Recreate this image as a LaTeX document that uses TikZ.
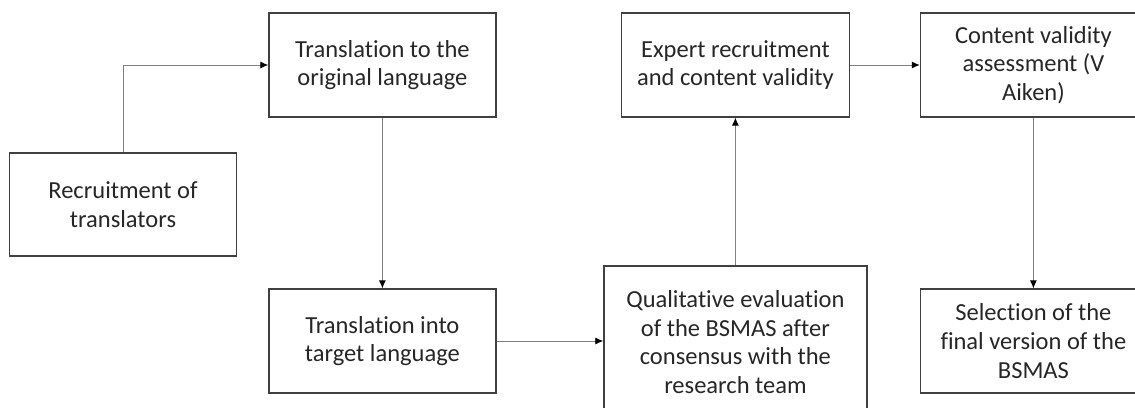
\documentclass[tikz,border=0pt]{standalone}
\usepackage{fontspec}
\setmainfont{Carlito}[Ligatures=NoCommon]
\usetikzlibrary{arrows.meta}
\tikzset{
  stepbox/.style={draw=black!75, line width=1.3pt, align=center, inner sep=0pt,
    minimum width=227pt, minimum height=104pt,
    font=\fontsize{24.5}{28.8}\selectfont, text=black!85},
  link/.style={draw=black!50, line width=0.9pt, -{Latex[black, length=8pt, width=7pt]}}
}
\begin{document}
\begin{tikzpicture}[x=1pt,y=-1pt]
  \useasboundingbox (0,0) rectangle (1135,407);
  \clip (0,0) rectangle (1135,407);
  % boxes
  \node[stepbox, minimum height=103pt] (recruit) at (123,204.5) {Recruitment of\\translators};
  \node[stepbox] (toorig) at (382.4,65) {Translation to the\\original language};
  \node[stepbox] (target) at (382.4,341) {Translation into\\target language};
  \node[stepbox, minimum width=263pt, minimum height=152pt] (qual) at (735.4,342) {Qualitative evaluation\\of the BSMAS after\\consensus with the\\research team};
  \node[stepbox, minimum width=228pt] (expert) at (735.4,65) {Expert recruitment\\and content validity};
  \node[stepbox, minimum width=226pt] (assess) at (1033.4,65) {Content validity\\assessment (V\\Aiken)};
  \node[stepbox, minimum width=226pt] (select) at (1033.4,341) {Selection of the\\final version of the\\BSMAS};
  % connectors
  \draw[link] (recruit.north) |- (toorig.west);
  \draw[link] (toorig.south) -- (target.north);
  \draw[link] (target.east) -- (target.east -| qual.west);
  \draw[link] (qual.north) -- (expert.south);
  \draw[link] (expert.east) -- (assess.west);
  \draw[link] (assess.south) -- (select.north);
\end{tikzpicture}
\end{document}
